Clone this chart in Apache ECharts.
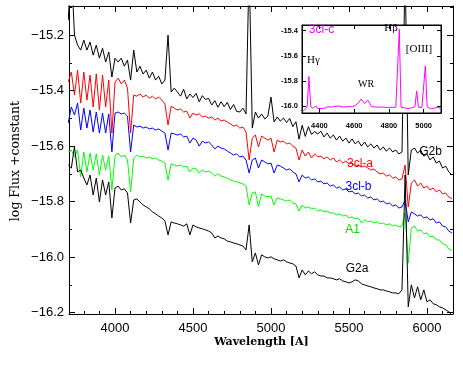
<!DOCTYPE html>
<html><head><meta charset="utf-8">
<script src="https://cdn.jsdelivr.net/npm/echarts@6/dist/echarts.min.js"></script>
<style>html,body{margin:0;padding:0;background:#fff}#c{width:463px;height:370px}</style>
</head><body><div id="c"></div>
<script>
// ---------------- DATA ----------------
const wavelength = [
 3700,3720,3740,3760,3780, 3800,3820,3840,3860,3880, 3900,3920,3940,3960,3980,
 4000,4020,4040,4060,4080, 4100,4120,4140,4160,4180, 4200,4220,4240,4260,4280,
 4300,4320,4340,4360,4380, 4400,4420,4440,4460,4480, 4500,4520,4540,4560,4580,
 4600,4620,4640,4660,4680, 4700,4720,4740,4760,4780, 4800,4820,4840,4860,4880,
 4900,4920,4940,4960,4980, 5000,5020,5040,5060,5080, 5100,5120,5140,5160,5180,
 5200,5220,5240,5260,5280, 5300,5320,5340,5360,5380, 5400,5420,5440,5460,5480,
 5500,5520,5540,5560,5580, 5600,5620,5640,5660,5680, 5700,5720,5740,5760,5780,
 5800,5820,5840,5860,5880, 5900,5920,5940,5960,5980, 6000,6020,6040,6060,6080,
 6100,6120,6140,6160
];
const fluxG2b = [
 -15.146,-14.950,-15.200,-15.236,-15.254, -15.218,-15.254,-15.225,-15.272,-15.236, -15.283,-15.247,-15.297,-15.261,-15.351,
 -15.283,-15.297,-15.283,-15.312,-15.290, -15.362,-15.254,-15.333,-15.312,-15.340, -15.326,-15.355,-15.333,-15.362,-15.348,
 -15.376,-15.362,-15.200,-15.405,-15.391, -15.405,-15.420,-15.395,-15.430,-15.412, -15.425,-15.410,-15.440,-15.418,-15.432,
 -15.428,-15.452,-15.436,-15.460,-15.440, -15.458,-15.442,-15.468,-15.450,-15.475, -15.477,-15.463,-15.484,-14.950,-15.535,
 -15.477,-15.499,-15.484,-15.502,-15.492, -15.423,-15.513,-15.495,-15.510,-15.499, -15.515,-15.500,-15.530,-15.512,-15.575,
 -15.525,-15.565,-15.530,-15.558,-15.548, -15.556,-15.546,-15.567,-15.553,-15.571, -15.560,-15.578,-15.564,-15.582,-15.571,
 -15.589,-15.574,-15.592,-15.582,-15.600, -15.585,-15.603,-15.592,-15.607,-15.596, -15.614,-15.603,-15.618,-15.607,-15.621,
 -15.614,-15.628,-15.621,-14.950,-15.704, -15.614,-15.607,-15.625,-15.614,-15.636, -15.628,-15.650,-15.639,-15.661,-15.654,
 -15.679,-15.672,-15.693,-15.704
];
const flux3clA = [
 -15.369,-15.333,-15.416,-15.326,-15.445, -15.333,-15.434,-15.344,-15.459,-15.340, -15.470,-15.344,-15.459,-15.362,-15.553,
 -15.369,-15.355,-15.376,-15.362,-15.391, -15.553,-15.416,-15.420,-15.412,-15.423, -15.416,-15.427,-15.420,-15.430,-15.423,
 -15.434,-15.448,-15.524,-15.456,-15.463, -15.470,-15.466,-15.477,-15.474,-15.499, -15.481,-15.488,-15.484,-15.495,-15.492,
 -15.499,-15.495,-15.506,-15.499,-15.510, -15.506,-15.513,-15.520,-15.528,-15.524, -15.535,-15.531,-15.549,-15.650,-15.571,
 -15.560,-15.603,-15.564,-15.571,-15.578, -15.571,-15.621,-15.578,-15.585,-15.582, -15.592,-15.589,-15.600,-15.607,-15.650,
 -15.614,-15.636,-15.621,-15.643,-15.628, -15.639,-15.636,-15.646,-15.639,-15.650, -15.643,-15.657,-15.650,-15.661,-15.654,
 -15.664,-15.661,-15.672,-15.668,-15.675, -15.672,-15.679,-15.686,-15.682,-15.693, -15.700,-15.697,-15.708,-15.704,-15.715,
 -15.711,-15.722,-15.718,-15.668,-15.819, -15.733,-15.722,-15.744,-15.733,-15.751, -15.744,-15.758,-15.751,-15.765,-15.758,
 -15.772,-15.769,-15.783,-15.790
];
const flux3clB = [
 -15.517,-15.459,-15.488,-15.445,-15.542, -15.463,-15.535,-15.470,-15.549,-15.477, -15.553,-15.481,-15.553,-15.484,-15.621,
 -15.481,-15.477,-15.484,-15.481,-15.492, -15.621,-15.524,-15.531,-15.528,-15.535, -15.531,-15.538,-15.535,-15.542,-15.538,
 -15.546,-15.553,-15.614,-15.553,-15.556, -15.560,-15.556,-15.567,-15.564,-15.589, -15.571,-15.578,-15.600,-15.582,-15.589,
 -15.585,-15.596,-15.610,-15.600,-15.607, -15.610,-15.618,-15.625,-15.632,-15.628, -15.639,-15.636,-15.650,-15.697,-15.650,
 -15.643,-15.679,-15.650,-15.657,-15.664, -15.661,-15.697,-15.668,-15.672,-15.679, -15.686,-15.682,-15.693,-15.700,-15.729,
 -15.704,-15.715,-15.711,-15.722,-15.718, -15.729,-15.726,-15.736,-15.733,-15.744, -15.740,-15.751,-15.747,-15.758,-15.754,
 -15.765,-15.762,-15.772,-15.769,-15.780, -15.776,-15.787,-15.783,-15.794,-15.790, -15.801,-15.798,-15.808,-15.805,-15.816,
 -15.812,-15.823,-15.819,-15.794,-15.873, -15.837,-15.844,-15.852,-15.848,-15.859, -15.855,-15.866,-15.862,-15.877,-15.873,
 -15.888,-15.891,-15.906,-15.913
];
const fluxA1 = [
 -15.621,-15.614,-15.639,-15.614,-15.711, -15.621,-15.693,-15.625,-15.686,-15.628, -15.704,-15.632,-15.686,-15.636,-15.758,
 -15.636,-15.625,-15.639,-15.632,-15.650, -15.765,-15.643,-15.632,-15.639,-15.636, -15.643,-15.639,-15.646,-15.643,-15.650,
 -15.654,-15.661,-15.722,-15.664,-15.668, -15.672,-15.668,-15.675,-15.672,-15.693, -15.679,-15.682,-15.697,-15.686,-15.693,
 -15.690,-15.697,-15.708,-15.700,-15.708, -15.711,-15.715,-15.722,-15.726,-15.729, -15.733,-15.736,-15.744,-15.812,-15.769,
 -15.765,-15.819,-15.772,-15.780,-15.783, -15.780,-15.812,-15.787,-15.790,-15.794, -15.798,-15.794,-15.805,-15.808,-15.834,
 -15.812,-15.823,-15.819,-15.826,-15.823, -15.834,-15.830,-15.837,-15.834,-15.841, -15.841,-15.848,-15.844,-15.852,-15.848,
 -15.859,-15.855,-15.862,-15.859,-15.877, -15.866,-15.873,-15.870,-15.877,-15.873, -15.880,-15.877,-15.884,-15.880,-15.888,
 -15.884,-15.891,-15.888,-15.841,-16.021, -15.895,-15.888,-15.906,-15.902,-15.916, -15.913,-15.927,-15.924,-15.938,-15.938,
 -15.952,-15.956,-15.970,-15.978
];
const fluxG2a = [
 -15.668,-15.679,-15.603,-15.693,-15.686, -15.715,-15.740,-15.704,-15.776,-15.715, -15.801,-15.722,-15.776,-15.729,-15.859,
 -15.751,-15.744,-15.758,-15.754,-15.769, -15.877,-15.794,-15.790,-15.801,-15.812, -15.819,-15.826,-15.837,-15.844,-15.852,
 -15.859,-15.870,-15.920,-15.873,-15.877, -15.880,-15.884,-15.888,-15.880,-15.920, -15.884,-15.891,-15.895,-15.898,-15.902,
 -15.906,-15.913,-15.931,-15.924,-15.931, -15.934,-15.942,-15.945,-15.949,-15.952, -15.956,-15.960,-15.974,-15.884,-16.017,
 -15.985,-16.028,-15.992,-15.999,-16.003, -15.999,-16.006,-16.010,-16.014,-16.010, -16.017,-16.021,-16.024,-16.032,-16.075,
 -16.046,-16.064,-16.050,-16.060,-16.053, -16.064,-16.068,-16.068,-16.075,-16.075, -16.078,-16.082,-16.078,-16.086,-16.089,
 -16.093,-16.089,-16.082,-16.086,-16.096, -16.100,-16.104,-16.107,-16.111,-16.114, -16.118,-16.118,-16.122,-16.125,-16.129,
 -16.129,-16.132,-16.118,-15.704,-16.179, -16.100,-16.147,-16.107,-16.154,-16.118, -16.161,-16.154,-16.168,-16.172,-16.179,
 -16.183,-16.190,-16.197,-16.208
];
const insetWavelength = [
 4300,4310,4320,4330,4340,4350,4360,4370,4380,4390,
 4400,4410,4420,4430,4440,4450,4460,4470,4480,4490,
 4500,4510,4520,4530,4540,4550,4560,4570,4580,4590,
 4600,4610,4620,4630,4640,4650,4660,4670,4680,4690,
 4700,4710,4720,4730,4740,4750,4760,4770,4780,4790,
 4800,4810,4820,4830,4840,4850,4860,4870,4880,4890,
 4900,4910,4920,4930,4940,4950,4960,4970,4980,4990,
 5000,5010,5020,5030,5040,5050,5060,5070,5080,5090,
 5100
];
const flux3clC = [
 -16.050,-16.035,-16.025,-16.005,-15.765,-16.000,-16.020,-16.015,-16.000,-16.020,
 -16.015,-16.020,-16.010,-16.018,-16.012,-16.005,-16.015,-16.010,-16.012,-16.003,
 -16.008,-16.000,-16.010,-16.006,-16.012,-16.008,-16.010,-16.004,-16.010,-16.006,
 -16.000,-15.995,-15.985,-15.965,-15.945,-15.960,-15.980,-15.985,-15.955,-15.980,
 -16.005,-16.012,-16.008,-16.015,-16.010,-16.014,-16.008,-16.012,-16.010,-16.015,
 -16.012,-16.016,-16.010,-16.014,-16.012,-16.000,-15.390,-16.010,-16.022,-16.015,
 -16.012,-16.020,-16.005,-16.015,-16.012,-16.005,-15.880,-16.010,-16.018,-16.012,
 -16.000,-15.680,-16.005,-16.020,-16.022,-16.015,-16.018,-16.005,-16.012,-16.015,
 -16.020
];
const xMajorTicks = [4000, 4500, 5000, 5500, 6000];
const xMinorTicks = [3800,3900,4100,4200,4300,4400,4600,4700,4800,4900,5100,5200,5300,5400,5600,5700,5800,5900,6100];
const yMajorTicks = [-16.2, -16.0, -15.8, -15.6, -15.4, -15.2];
const yMinorTicks = [-16.1, -15.9, -15.7, -15.5, -15.3, -15.1];
const insetXTicks = [4400, 4600, 4800, 5000];
const insetYTicks = [-16.0, -15.8, -15.6, -15.4];
const seriesNames = ['G2b', '3cl-a', '3cl-b', 'A1', 'G2a'];

// ---------------- CHART ----------------
const chart = echarts.init(document.getElementById('c'), null, {renderer: 'canvas'});
const MAIN_X = [3705, 6167], MAIN_Y = [-16.205, -15.095];
const INS_X = [4300, 5100], INS_Y = [-16.056, -15.355];
const minusFmt = v => (v < 0 ? '\u2212' : '') + Math.abs(v).toFixed(1);
const plainFmt = v => String(Math.round(v));

function mkAxis(o) {
  return {
    type: 'value', gridIndex: o.grid, position: o.pos, min: o.range[0], max: o.range[1], z: o.z || 0,
    axisLine: {show: !!o.line, onZero: false, lineStyle: {color: '#000', width: 1}},
    axisTick: {show: true, inside: true, length: o.len, customValues: o.ticks, lineStyle: {color: '#000', width: 1}},
    axisLabel: o.label ? Object.assign({show: true, customValues: o.ticks}, o.label) : {show: false},
    splitLine: {show: false}, axisPointer: {show: false}
  };
}
const insetLabel = {color: '#000', fontSize: 7.5, fontWeight: 'bold', fontFamily: 'Liberation Sans'};

const xAxes = [
  mkAxis({grid: 0, pos: 'bottom', range: MAIN_X, line: true, len: 6, ticks: xMajorTicks, label: {color: '#000', fontSize: 13, fontFamily: 'Liberation Sans', margin: 8, formatter: plainFmt}}),
  mkAxis({grid: 0, pos: 'bottom', range: MAIN_X, len: 3, ticks: xMinorTicks}),
  mkAxis({grid: 0, pos: 'top', range: MAIN_X, line: true, len: 6, ticks: xMajorTicks}),
  mkAxis({grid: 0, pos: 'top', range: MAIN_X, len: 3, ticks: xMinorTicks}),
  mkAxis({grid: 1, pos: 'bottom', range: INS_X, line: true, len: 4, ticks: insetXTicks, z: 11, label: Object.assign({margin: 9, formatter: plainFmt}, insetLabel)}),
  mkAxis({grid: 1, pos: 'top', range: INS_X, line: true, len: 4, ticks: insetXTicks, z: 11})
];
const yAxes = [
  mkAxis({grid: 0, pos: 'left', range: MAIN_Y, line: true, len: 6, ticks: yMajorTicks, label: {color: '#000', fontSize: 13, fontFamily: 'Liberation Sans', margin: 5, formatter: minusFmt}}),
  mkAxis({grid: 0, pos: 'left', range: MAIN_Y, len: 3, ticks: yMinorTicks}),
  mkAxis({grid: 0, pos: 'right', range: MAIN_Y, line: true, len: 6, ticks: yMajorTicks}),
  mkAxis({grid: 0, pos: 'right', range: MAIN_Y, len: 3, ticks: yMinorTicks}),
  mkAxis({grid: 1, pos: 'left', range: INS_Y, line: true, len: 4, ticks: insetYTicks, z: 11, label: Object.assign({margin: 4, formatter: v => v.toFixed(1)}, insetLabel)}),
  mkAxis({grid: 1, pos: 'right', range: INS_Y, line: true, len: 4, ticks: insetYTicks, z: 11})
];

const pairs = (xs, ys) => xs.map((x, i) => [x, ys[i]]);
const mainSeries = [
  [fluxG2b, '#000000'], [flux3clA, '#ff0000'], [flux3clB, '#0000ff'], [fluxA1, '#00ff00'], [fluxG2a, '#000000']
].map((s, k) => ({
  name: seriesNames[k], type: 'line', xAxisIndex: 0, yAxisIndex: 0, data: pairs(wavelength, s[0]),
  symbol: 'none', showSymbol: false, clip: true, silent: true, z: 2,
  lineStyle: {color: s[1], width: 1}
}));
const insetSeries = {
  name: '3cl-c', type: 'line', xAxisIndex: 4, yAxisIndex: 4, data: pairs(insetWavelength, flux3clC),
  symbol: 'none', showSymbol: false, clip: true, silent: true, z: 12, lineStyle: {color: '#ff00ff', width: 1}
};

function txt(x, y, text, color, font, extra) {
  return Object.assign({type: 'text', x: x, y: y, z: 20, silent: true,
    style: {text: text, fill: color, font: font, align: 'center', verticalAlign: 'middle'}}, extra || {});
}
const sans = '12px "Liberation Sans"';
const serifIn = '11px "Liberation Serif"';
const graphics = [
  {type: 'rect', z: 9, silent: true, shape: {x: 302, y: 25, width: 139, height: 88}, style: {fill: '#fff', stroke: null}},
  txt(16, 161, 'log Flux +constant', '#000', '12.5px "DejaVu Serif"', {rotation: Math.PI / 2}),
  txt(261.5, 342, 'Wavelength [A]', '#000', 'bold 11px "DejaVu Serif"'),
  txt(430.5, 151.5, 'G2b', '#000', sans),
  txt(360, 164, '3cl-a', '#ff0000', sans),
  txt(358.5, 187, '3cl-b', '#0000ff', sans),
  txt(352.5, 230, 'A1', '#00dd00', sans),
  txt(357, 269, 'G2a', '#000', sans),
  txt(321.5, 30, '3cl-c', '#ff00ff', sans),
  txt(313.5, 60, 'H\u03b3', '#000', serifIn),
  txt(366, 84, 'WR', '#000', '10px "Liberation Serif"'),
  txt(391, 28, 'H\u03b2', '#000', serifIn),
  txt(419, 49, '[OIII]', '#000', serifIn)
];

chart.setOption({
  animation: false,
  backgroundColor: '#fff',
  grid: [
    {left: 69, top: 6, width: 384, height: 308, show: false, containLabel: false},
    {left: 302, top: 25, width: 139, height: 88, show: true, backgroundColor: '#fff', borderColor: '#000', borderWidth: 1, z: 10, containLabel: false}
  ],
  xAxis: xAxes,
  yAxis: yAxes,
  series: mainSeries.concat([insetSeries]),
  graphic: graphics
});
</script></body></html>
